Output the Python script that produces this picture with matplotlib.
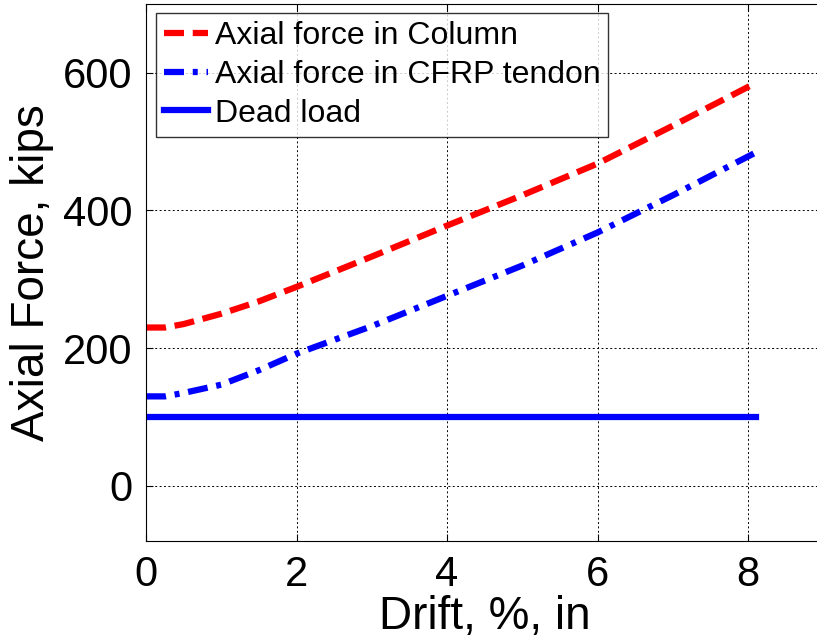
import numpy as np
import matplotlib.pyplot as plt

plt.rcParams['font.family'] = ['Liberation Sans', 'DejaVu Sans']

# drift (%) and axial forces (kips)
drift = [0, 0.25, 0.5, 1, 1.5, 2, 3, 4, 5, 6, 7, 8.1]
column_force = [230, 230, 235, 250, 268, 289, 333, 378, 422, 468, 523, 585]
tendon_force = [130, 130, 135, 147, 168, 192, 232, 276, 320, 368, 422, 484]
dead_drift = [0, 8.1]
dead_load = [100, 100]

fig = plt.figure(figsize=(8.17, 6.41), dpi=100)
ax = fig.add_axes([0.1787, 0.156, 0.829, 0.838])

ax.plot(drift, column_force, color='red', lw=4.5, linestyle=(0, (3.2, 1.4)),
        label='Axial force in Column')
ax.plot(drift, tendon_force, color='blue', lw=4.5, linestyle=(0, (3.2, 1.4, 0.8, 1.4)),
        label='Axial force in CFRP tendon')
ax.plot(dead_drift, dead_load, color='blue', lw=4.5, label='Dead load')

ax.set_xlim(0, 9)
ax.set_ylim(-80, 700)
ax.set_xticks([0, 2, 4, 6, 8])
ax.set_yticks([0, 200, 400, 600])
ax.grid(True, color='black', linestyle=(0, (2, 2.5)), lw=0.7)
ax.tick_params(axis='both', direction='in', labelsize=30, length=5, top=True, right=True, pad=10)
ax.set_xlabel('Drift, %, in', fontsize=33, labelpad=0)
ax.set_ylabel('Axial Force, kips', fontsize=33, labelpad=6)

leg = ax.legend(loc='upper left', fontsize=23, frameon=True, fancybox=False,
                handlelength=1.4, handletextpad=0.2, borderpad=0.25, labelspacing=0.27,
                borderaxespad=0.3)
leg.get_frame().set_edgecolor('black')
leg.get_frame().set_linewidth(1.0)

plt.savefig('out.png', dpi=100)
plt.close()
